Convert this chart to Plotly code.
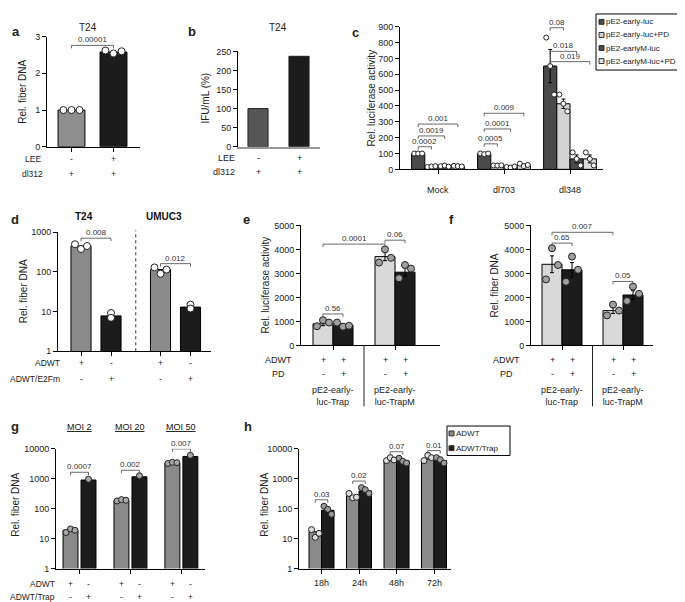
import math
import plotly.graph_objects as go

W, H = 685, 602
FONT = "Liberation Sans, Arial, sans-serif"

# ---------------- data ----------------
# a
a_lee = ["-", "+"]
a_dl312 = ["+", "+"]
a_values = [1.0, 2.58]
a_points = [[1.0, 1.0, 1.0], [2.62, 2.54, 2.6]]

# b
b_lee = ["-", "+"]
b_dl312 = ["+", "+"]
b_values = [100, 237]

# c
c_groups = ["Mock", "dl703", "dl348"]
c_series = ["pE2-early-luc", "pE2-early-luc+PD", "pE2-earlyM-luc", "pE2-earlyM-luc+PD"]
c_values = [[100, 100, 652], [18, 25, 414], [20, 15, 66], [20, 28, 66]]
c_errors = [[0, 2, 105], [2, 2, 30], [3, 3, 25], [2, 5, 25]]
c_points = [
    [[100, 100, 100], [100, 96, 100], [832, 652, 472]],
    [[15, 18, 20], [25, 24, 26], [472, 414, 366]],
    [[20, 24, 17], [15, 12, 18], [107, 66, 25]],
    [[22, 20, 18], [36, 20, 28], [107, 66, 25]],
]
# (group, series i, series j, level, p)
c_pvals = [(0, 0, 1, 143, "0.0002"), (0, 0, 2, 211, "0.0019"), (0, 0, 3, 286, "0.001"),
           (1, 0, 1, 161, "0.0005"), (1, 0, 2, 255, "0.0001"), (1, 0, 3, 354, "0.009"),
           (2, 0, 1, 894, "0.08"), (2, 0, 2, 745, "0.018"), (2, 0, 3, 680, "0.019")]

# d
d_groups = ["T24", "UMUC3"]
d_adwt = ["+", "-"]
d_e2fm = ["-", "+"]
d_values = [[452, 7.8], [115, 13]]
d_points = [[[500, 380, 450], [9.2, 7.0]], [[130, 90, 115], [15, 12]]]
d_pvals = [(0, 710, "0.008"), (1, 162, "0.012")]

# e
e_groups = ["pE2-early-<br>luc-Trap", "pE2-early-<br>luc-TrapM"]
e_adwt = ["+", "+"]
e_pd = ["-", "+"]
e_values = [[900, 850], [3700, 3050]]
e_errors = [[80, 50], [170, 170]]
e_points = [[[800, 1050, 950], [950, 780, 820]], [[3450, 4000, 3650], [2800, 3350, 3200]]]
e_pvals = [((0, 0), (0, 1), 1311, "0.56"), ((1, 0), (1, 1), 4385, "0.06"), ((0, 0), (1, 0), 4221, "0.0001")]

# f
f_values = [[3380, 3150], [1450, 2100]]
f_errors = [[350, 300], [120, 180]]
f_points = [[[2750, 4050, 3350], [2650, 3700, 3150]], [[1250, 1700, 1450], [1850, 2450, 2150]]]
f_pvals = [((0, 0), (0, 1), 4262, "0.65"), ((0, 0), (1, 0), 4713, "0.007"), ((1, 0), (1, 1), 2664, "0.05")]

# g
g_groups = ["MOI 2", "MOI 20", "MOI 50"]
g_adwt = [19, 185, 3300]
g_trap = [900, 1150, 5500]
g_adwt_pts = [[16, 21, 19], [180, 200, 190], [3200, 3500, 3400]]
g_trap_pts = [[950], [1250], [6000]]
g_pvals = [1630, 1900, 9800]
g_plabels = ["0.0007", "0.002", "0.007"]

# h
h_groups = ["18h", "24h", "48h", "72h"]
h_series = ["ADWT", "ADWT/Trap"]
h_adwt = [17, 270, 4200, 4500]
h_trap = [88, 390, 4000, 4000]
h_adwt_pts = [[20, 11, 15], [320, 230, 240], [4000, 5000, 4200], [4000, 6000, 5000]]
h_trap_pts = [[120, 95, 65], [500, 430, 320], [4800, 3800, 3300], [5000, 4300, 3300]]
h_pvals = [197, 830, 7900, 8600]
h_plabels = ["0.03", "0.02", "0.07", "0.01"]

# ---------------- helpers ----------------
fig = go.Figure()
annotations = []
shapes = []
layout = {}
panels = {}


def xn(n):
    return "x" if n == 1 else f"x{n}"


def yn(n):
    return "y" if n == 1 else f"y{n}"


def add_axes(n, xpx, ypx, xr, yr, xticks, ytickvals, yticktext=None, log=False):
    base = dict(showline=True, linecolor="black", linewidth=1, ticks="outside", ticklen=4,
                tickwidth=1, tickcolor="black", showgrid=False, zeroline=False,
                tickfont=dict(size=9, color="#222", family=FONT), fixedrange=True)
    layout["xaxis" if n == 1 else f"xaxis{n}"] = dict(
        base, domain=[xpx[0] / W, xpx[1] / W], range=list(xr), tickvals=xticks,
        ticktext=[""] * len(xticks), anchor=yn(n))
    ya = dict(base, domain=[1 - ypx[1] / H, 1 - ypx[0] / H], range=list(yr), tickvals=ytickvals,
              anchor=xn(n))
    if yticktext:
        ya["ticktext"] = yticktext
    if log:
        ya["type"] = "log"
    layout["yaxis" if n == 1 else f"yaxis{n}"] = ya
    panels[n] = dict(yr=yr, hpx=ypx[1] - ypx[0], log=log)


def bars(n, xs, ys, color, width, err=None, line="black"):
    fig.add_trace(go.Bar(x=xs, y=ys, width=width, xaxis=xn(n), yaxis=yn(n),
                         marker=dict(color=color, line=dict(color=line, width=1)),
                         error_y=dict(type="data", array=err, color="black", thickness=1, width=2,
                                      visible=err is not None),
                         showlegend=False))


def dots(n, x, vals, width, fill, size=6):
    k = len(vals)
    offs = [0] * k if k < 3 else [-0.3 * width, 0, 0.3 * width]
    fig.add_trace(go.Scatter(x=[x + o for o in offs], y=vals, mode="markers", xaxis=xn(n), yaxis=yn(n),
                             marker=dict(size=size, color=fill, line=dict(color="#222", width=1)),
                             showlegend=False))


def bracket(n, x1, x2, level, label, tick=3):
    p = panels[n]
    span = p["yr"][1] - p["yr"][0]
    d = tick * span / p["hpx"]
    low = level / 10 ** d if p["log"] else level - d
    fig.add_trace(go.Scatter(x=[x1, x1, x2, x2], y=[low, level, level, low], mode="lines",
                             xaxis=xn(n), yaxis=yn(n), line=dict(color="#444", width=0.8),
                             showlegend=False, hoverinfo="skip"))
    annotations.append(dict(x=(x1 + x2) / 2, y=math.log10(level) if p["log"] else level,
                            xref=xn(n), yref=yn(n), text=label, showarrow=False, yanchor="bottom",
                            borderpad=0, font=dict(size=8, color="#333", family=FONT)))


def text(xp, yp, s, size=9, bold=False, anchor="center", angle=0, color="#222"):
    annotations.append(dict(x=xp / W, y=1 - yp / H, xref="paper", yref="paper",
                            text=f"<b>{s}</b>" if bold else s, showarrow=False, xanchor=anchor,
                            yanchor="middle", textangle=angle, borderpad=0,
                            font=dict(size=size, color=color, family=FONT)))


def row(n, xs, signs, yp, name, name_x, name_anchor="right", size=8.5):
    text(name_x, yp, name, size, anchor=name_anchor)
    for x, s in zip(xs, signs):
        annotations.append(dict(x=x, y=1 - yp / H, xref=xn(n), yref="paper", text=s, showarrow=False,
                                yanchor="middle", borderpad=0, font=dict(size=size, color="#222", family=FONT)))


# ---------------- a ----------------
add_axes(1, (39, 132), (24, 136), (-0.583, 1.631), (0, 3), [0, 1], [0, 1, 2, 3])
bars(1, [0], [a_values[0]], "#8f8f8f", 0.64)
bars(1, [1], [a_values[1]], "#1c1c1c", 0.64)
for i, pts in enumerate(a_points):
    dots(1, i, pts, 0.64, "white", 7)
bracket(1, 0, 1, 2.76, "0.00001")
row(1, [0, 1], a_lee, 148, "LEE", 25, "center")
row(1, [0, 1], a_dl312, 164, "dl312", 25, "center")
text(80, 15, "T24", 10)
text(8, 19, "a", 13, True)
text(15, 80, "Rel. fiber DNA", 10, angle=-90)

# ---------------- b ----------------
add_axes(2, (230, 312), (39, 136), (-0.488, 1.512), (0, 250), [0, 1], [0, 50, 100, 150, 200, 250])
layout["xaxis2"]["linecolor"] = "#999"
layout["xaxis2"]["linewidth"] = 1.5
layout["xaxis2"]["ticks"] = ""
bars(2, [0], [b_values[0]], "#565656", 0.49, line="#222")
bars(2, [1], [b_values[1]], "#1c1c1c", 0.49, line="#1c1c1c")
row(2, [0, 1], b_lee, 147, "LEE", 228, size=9)
row(2, [0, 1], b_dl312, 162, "dl312", 228, size=9)
text(270, 15, "T24", 10)
text(184, 19, "b", 13, True)
text(198, 87, "IFU/mL (%)", 10, angle=-90)

# ---------------- c ----------------
add_axes(3, (392, 595), (14, 159), (-0.576, 2.5), (0, 900), [0, 1, 2], list(range(0, 901, 100)))
c_colors = ["#4a4a4a", "#d2d2d2", "#4a4a4a", "#dcdcdc"]
c_offs = [-0.3, -0.1, 0.1, 0.3]
for s in range(4):
    xs = [g + c_offs[s] for g in range(3)]
    bars(3, xs, c_values[s], c_colors[s], 0.2, err=c_errors[s])
    for g in range(3):
        dots(3, xs[g], c_points[s][g], 0.2, "white", 5)
for g, i, j, lvl, p in c_pvals:
    bracket(3, g + c_offs[i], g + c_offs[j], lvl, p)
for g, name in enumerate(c_groups):
    annotations.append(dict(x=g, y=1 - 173 / H, xref="x3", yref="paper", text=name, showarrow=False,
                            font=dict(size=9, color="#222", family=FONT)))
text(348, 20, "c", 13, True)
text(364, 87, "Rel. luciferase activity", 10, angle=-90)
# legend c
shapes.append(dict(type="rect", xref="paper", yref="paper", x0=588 / W, x1=684 / W, y0=1 - 58 / H,
                   y1=1 - 1 / H, line=dict(color="black", width=1)))
for k, name in enumerate(c_series):
    yp = 9 + k * 13.3
    shapes.append(dict(type="rect", xref="paper", yref="paper", x0=591 / W, x1=596 / W,
                       y0=1 - (yp + 2.5) / H, y1=1 - (yp - 2.5) / H, fillcolor=c_colors[k],
                       line=dict(color="#333", width=1)))
    text(597, yp, name, 8, anchor="left")

# ---------------- d ----------------
add_axes(4, (50, 203), (223, 344), (-0.767, 4.333), (0, 3), [0, 1, 2.65, 3.65],
         [1, 10, 100, 1000], ["1", "10", "100", "1000"], log=True)
for g in range(2):
    base = g * 2.65
    bars(4, [base], [d_values[g][0]], "#8a8a8a", 0.67)
    bars(4, [base + 1], [d_values[g][1]], "#1c1c1c", 0.67)
    dots(4, base, d_points[g][0], 0.67, "white", 7)
    dots(4, base + 1, d_points[g][1], 0.67, "white", 7)
    bracket(4, base, base + 1, d_pvals[g][1], d_pvals[g][2])
    annotations.append(dict(x=base + 0.1, y=1 - 207 / H, xref="x4", yref="paper", text=f"<b>{d_groups[g]}</b>",
                            showarrow=False, font=dict(size=10, color="#111", family=FONT)))
shapes.append(dict(type="line", xref="x4", yref="paper", x0=1.825, x1=1.825, y0=1 - 344 / H, y1=1 - 221 / H,
                   line=dict(color="#333", width=1, dash="dot")))
row(4, [0, 1, 2.65, 3.65], d_adwt + d_adwt, 356, "ADWT", 53)
row(4, [0, 1, 2.65, 3.65], d_e2fm + d_e2fm, 372, "ADWT/E2Fm", 53)
text(7, 210, "d", 13, True)
text(15, 283, "Rel. fiber DNA", 10, angle=-90)


# ---------------- e / f ----------------
def panel_ef(n, xpx, xr, gap, values, errors, points, pvals, ylab_x, letter, letter_x, ylabel):
    add_axes(n, xpx, (216, 338), xr, (0, 5000), [0.5, gap + 0.5], [0, 1000, 2000, 3000, 4000, 5000])
    pos = [[0, 1], [gap, gap + 1]]
    for g in range(2):
        bars(n, [pos[g][0]], [values[g][0]], "#d9d9d9", 1.0, err=[errors[g][0]])
        bars(n, [pos[g][1]], [values[g][1]], "#1c1c1c", 1.0, err=[errors[g][1]])
        dots(n, pos[g][0], points[g][0], 1.0, "#a0a0a0", 7)
        dots(n, pos[g][1], points[g][1], 1.0, "#a0a0a0", 7)
        annotations.append(dict(x=gap * g + 0.5, y=1 - 376 / H, xref=xn(n), yref="paper", text=e_groups[g],
                                showarrow=False, yanchor="top", font=dict(size=9, color="#222", family=FONT)))
    for a, b, lvl, p in pvals:
        bracket(n, pos[a[0]][a[1]], pos[b[0]][b[1]], lvl, p)
    mid = (1 + gap) / 2
    shapes.append(dict(type="line", xref=xn(n), yref="paper", x0=mid, x1=mid, y0=1 - 400 / H, y1=1 - 338 / H,
                       line=dict(color="#222", width=1)))
    xs = [0, 1, gap, gap + 1]
    row(n, xs, e_adwt * 2, 353, "ADWT", ylab_x + 13, "center", 9)
    row(n, xs, e_pd * 2, 367, "PD", ylab_x + 13, "center", 9)
    text(letter_x, 210, letter, 13, True)
    text(ylab_x, 277, ylabel, 10, angle=-90)


panel_ef(5, (293, 432), (-1.1, 5.85), 3.1, e_values, e_errors, e_points, e_pvals, 257, "e", 238,
         "Rel. luciferase activity")
panel_ef(6, (523, 645), (-1.05, 5.05), 3.05, f_values, f_errors, f_points, f_pvals, 486, "f", 443,
         "Rel. fiber DNA")

# ---------------- g ----------------
g_gap = 2.83
add_axes(7, (48, 197), (443, 565), (-1.306, 6.972), (0, 4), [g * g_gap for g in range(3)],
         [1, 10, 100, 1000, 10000], ["1", "10", "100", "1000", "10000"], log=True)
for g in range(3):
    c = g * g_gap
    bars(7, [c - 0.5], [g_adwt[g]], "#8a8a8a", 0.83)
    bars(7, [c + 0.5], [g_trap[g]], "#1c1c1c", 0.83)
    dots(7, c - 0.5, g_adwt_pts[g], 0.83, "#a8a8a8", 6)
    dots(7, c + 0.5, g_trap_pts[g], 0.83, "#a8a8a8", 6)
    bracket(7, c - 0.5, c + 0.5, g_pvals[g], g_plabels[g])
    annotations.append(dict(x=c, y=1 - 428 / H, xref="x7", yref="paper", text=f"<u>{g_groups[g]}</u>",
                            showarrow=False, font=dict(size=9, color="#111", family=FONT)))
gx = [g * g_gap + o for g in range(3) for o in (-0.5, 0.5)]
row(7, gx, ["+", "-"] * 3, 581, "ADWT", 48)
row(7, gx, ["-", "+"] * 3, 594, "ADWT/Trap", 48)
text(7, 420, "g", 13, True)
text(8, 500, "Rel. fiber DNA", 10, angle=-90)

# ---------------- h ----------------
add_axes(8, (291, 443), (443, 565), (-1.8, 10.36), (0, 4), [g * 3 for g in range(4)],
         [1, 10, 100, 1000, 10000], ["1", "10", "100", "1000", "10000"], log=True)
for g in range(4):
    c = g * 3
    bars(8, [c - 0.5], [h_adwt[g]], "#8a8a8a", 1.0)
    bars(8, [c + 0.5], [h_trap[g]], "#1c1c1c", 1.0)
    dots(8, c - 0.5, h_adwt_pts[g], 1.0, "#dedede", 6)
    dots(8, c + 0.5, h_trap_pts[g], 1.0, "#9a9a9a", 6)
    bracket(8, c - 0.5, c + 0.5, h_pvals[g], h_plabels[g])
    annotations.append(dict(x=c, y=1 - 587 / H, xref="x8", yref="paper", text=h_groups[g],
                            showarrow=False, font=dict(size=9, color="#222", family=FONT)))
text(240, 420, "h", 13, True)
text(257, 500, "Rel. fiber DNA", 10, angle=-90)
shapes.append(dict(type="rect", xref="paper", yref="paper", x0=439 / W, x1=502 / W, y0=1 - 450 / H,
                   y1=1 - 420 / H, line=dict(color="black", width=1)))
for k, (name, col) in enumerate(zip(h_series, ["#8a8a8a", "#1c1c1c"])):
    yp = 427.5 + k * 15
    shapes.append(dict(type="rect", xref="paper", yref="paper", x0=441 / W, x1=446 / W,
                       y0=1 - (yp + 2.5) / H, y1=1 - (yp - 2.5) / H, fillcolor=col,
                       line=dict(color="#333", width=1)))
    text(447, yp, name, 8, anchor="left")

fig.update_layout(**layout)
fig.update_layout(width=W, height=H, margin=dict(l=0, r=0, t=0, b=0), barmode="overlay",
                  plot_bgcolor="white", paper_bgcolor="white", showlegend=False,
                  annotations=annotations, shapes=shapes, font=dict(family=FONT))
fig.write_html("out.html")
